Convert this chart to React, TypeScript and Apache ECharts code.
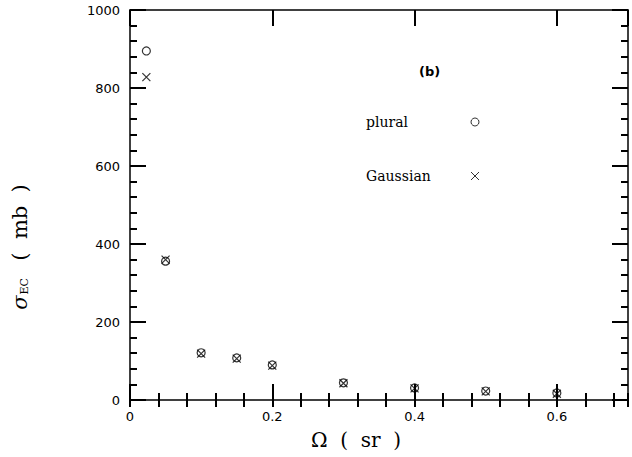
import React, { useEffect, useRef } from "react";
import * as echarts from "echarts";

// Solid angle Ω (sr)
const omega = [0.023, 0.05, 0.1, 0.15, 0.2, 0.3, 0.4, 0.5, 0.6];
// σ_EC (mb), plural scattering
const pluralValues = [895, 356, 121, 108, 90, 44, 31, 23, 18];
// σ_EC (mb), Gaussian
const gaussianValues = [828, 360, 119, 106, 88, 43, 30, 22, 16];

const xTickLabels = ["0", "0.2", "0.4", "0.6"];
const yTickLabels = ["0", "200", "400", "600", "800", "1000"];

const X_MIN = 0;
const X_MAX = 0.7;
const Y_MIN = 0;
const Y_MAX = 1000;

const crossPath = "path://M0,0L10,10M10,0L0,10";

export default function App() {
  const ref = useRef<HTMLDivElement>(null);
  useEffect(() => {
    if (!ref.current) return;
    const chart = echarts.init(ref.current, undefined, { renderer: "svg" });
    const black = "#000";
    const tickFont = { fontFamily: "DejaVu Sans", fontSize: 13, color: black };
    const major = () => ({ show: true, inside: true, length: 16, lineStyle: { color: black, width: 2 } });
    const minor = () => ({ show: true, inside: true, length: 7, lineStyle: { color: black, width: 2 } });
    const yMinor = () => ({ show: true, splitNumber: 5, length: 7, lineStyle: { color: black, width: 2 } });
    const lineOn = () => ({ show: true, onZero: false, lineStyle: { color: black, width: 1.5 } });

    const option: any = {
      animation: false,
      title: {
        text: "(b)",
        left: 414,
        top: 60,
        textStyle: { fontFamily: "DejaVu Sans", fontSize: 13, fontWeight: "bold", color: black },
      },
      legend: {
        orient: "vertical",
        left: 361,
        top: 110,
        align: "right",
        itemGap: 40,
        itemWidth: 8,
        itemHeight: 8,
        itemStyle: { borderWidth: 1 },
        data: ["plural", "Gaussian"],
        formatter: (name: string) => `{a|${name}}`,
        textStyle: {
          fontFamily: "DejaVu Serif",
          fontSize: 14,
          color: black,
          rich: { a: { width: 100, align: "left", fontFamily: "DejaVu Serif", fontSize: 14, color: black } },
        },
      },
      grid: { left: 130, right: 4, top: 10, bottom: 57 },
      xAxis: [
        {
          type: "value",
          min: X_MIN,
          max: X_MAX,
          interval: 0.2,
          position: "bottom",
          splitLine: { show: false },
          axisLine: lineOn(),
          axisTick: major(),
          name: "Ω  (  sr  )",
          nameLocation: "middle",
          nameGap: 30,
          nameTextStyle: { fontFamily: "DejaVu Serif", fontSize: 20, color: black, padding: [0, 46, 0, 0] },
          axisLabel: {
            show: true,
            margin: 10,
            showMaxLabel: false,
            ...tickFont,
            formatter: (v: number) => {
              const i = Math.round(v / 0.2);
              return Math.abs(v - i * 0.2) < 1e-6 && xTickLabels[i] !== undefined ? xTickLabels[i] : "";
            },
          },
        },
        {
          type: "value",
          min: X_MIN,
          max: X_MAX,
          interval: 0.04,
          position: "bottom",
          splitLine: { show: false },
          axisLine: { show: false },
          axisTick: minor(),
          axisLabel: { show: false },
        },
        {
          type: "value",
          min: X_MIN,
          max: X_MAX,
          interval: 0.2,
          position: "top",
          splitLine: { show: false },
          axisLine: lineOn(),
          axisTick: major(),
          axisLabel: { show: false },
        },
        {
          type: "value",
          min: X_MIN,
          max: X_MAX,
          interval: 0.04,
          position: "top",
          splitLine: { show: false },
          axisLine: { show: false },
          axisTick: minor(),
          axisLabel: { show: false },
        },
      ],
      yAxis: [
        {
          type: "value",
          position: "left",
          min: Y_MIN,
          max: Y_MAX,
          interval: 200,
          splitLine: { show: false },
          name: "{s|σ}{sub|EC}  (  mb  )",
          nameLocation: "middle",
          nameRotate: 90,
          nameGap: 100,
          nameTextStyle: {
            fontFamily: "DejaVu Serif",
            fontSize: 21,
            color: black,
            padding: [0, 84, 0, 0],
            rich: {
              s: { fontFamily: "DejaVu Serif", fontStyle: "italic", fontSize: 21, color: black },
              sub: { fontFamily: "DejaVu Serif", fontSize: 11, color: black, verticalAlign: "bottom", padding: [10, 4, 0, 1] },
            },
          },
          axisLine: lineOn(),
          axisTick: major(),
          minorTick: yMinor(),
          axisLabel: {
            show: true,
            margin: 10,
            ...tickFont,
            formatter: (v: number) => yTickLabels[Math.round(v / 200)] ?? "",
          },
        },
        {
          type: "value",
          position: "right",
          min: Y_MIN,
          max: Y_MAX,
          interval: 200,
          splitLine: { show: false },
          axisLine: lineOn(),
          axisTick: major(),
          minorTick: yMinor(),
          axisLabel: { show: false },
        },
      ],
      series: [
        {
          name: "plural",
          type: "scatter",
          xAxisIndex: 0,
          yAxisIndex: 0,
          symbol: "circle",
          symbolSize: 8,
          z: 3,
          itemStyle: { color: "none", borderColor: black, borderWidth: 1.2 },
          data: omega.map((x, i) => [x, pluralValues[i]]),
        },
        {
          name: "Gaussian",
          type: "scatter",
          xAxisIndex: 0,
          yAxisIndex: 0,
          symbol: crossPath,
          symbolSize: 8,
          z: 3,
          itemStyle: { color: "none", borderColor: black, borderWidth: 1.2 },
          data: omega.map((x, i) => [x, gaussianValues[i]]),
        },
      ],
    };
    chart.setOption(option);
    return () => chart.dispose();
  }, []);
  return (
    <div
      ref={ref}
      style={{ position: "fixed", left: 0, top: 0, width: 632, height: 457, background: "#fff" }}
    />
  );
}
